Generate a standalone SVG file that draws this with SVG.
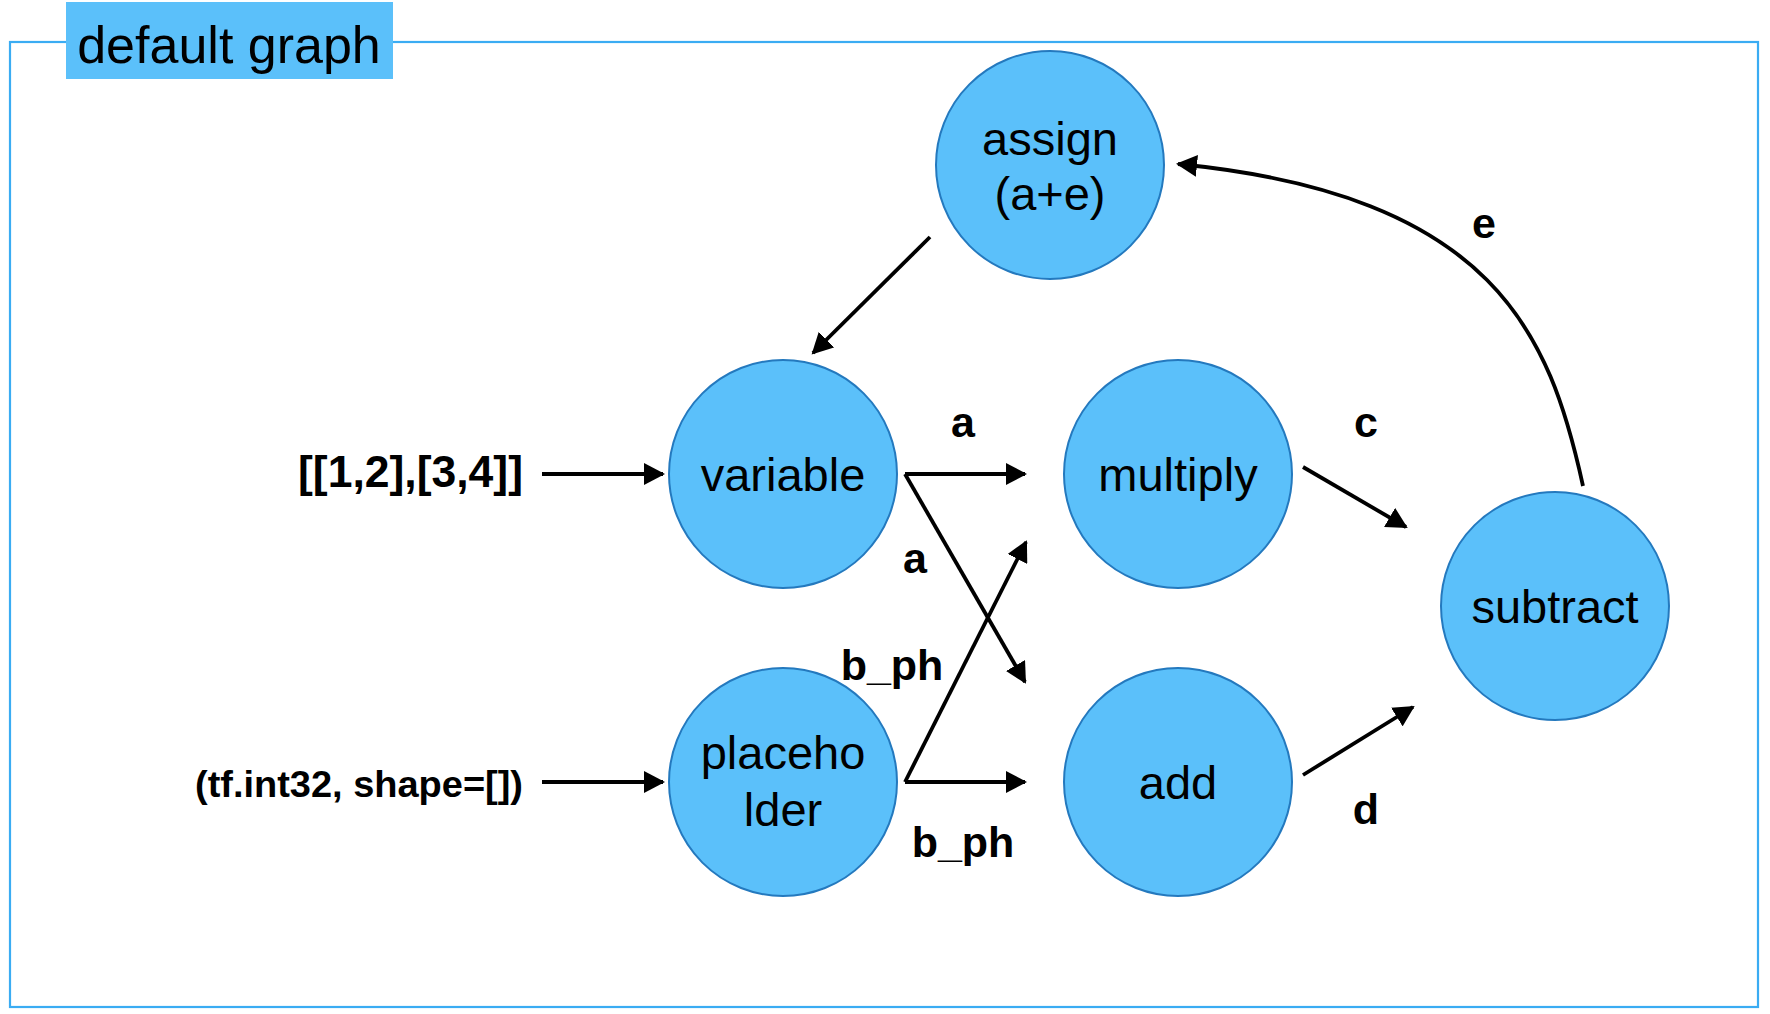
<svg xmlns="http://www.w3.org/2000/svg" width="1770" height="1014" viewBox="0 0 1770 1014">
<style>
.node{fill:#5BC0FA;stroke:#2479BE;stroke-width:2}
.nt{font-family:"Liberation Sans",Arial,sans-serif;font-size:47px;fill:#000;text-anchor:middle}
.lb{font-family:"Liberation Sans",Arial,sans-serif;font-size:43px;font-weight:bold;fill:#000;text-anchor:middle}
.in{font-family:"Liberation Sans",Arial,sans-serif;font-weight:bold;fill:#000;text-anchor:end}
.edge{fill:none;stroke:#000;stroke-width:3.8;marker-end:url(#arr)}
</style>
<defs>
<marker id="arr" markerUnits="userSpaceOnUse" markerWidth="22" markerHeight="22" refX="19" refY="11" orient="auto">
<path d="M0,0 L21,11 L0,22 z" fill="#000"/>
</marker>
</defs>
<rect width="1770" height="1014" fill="#fff"/>
<g id="frame">
<rect x="10" y="42" width="1748" height="965" fill="none" stroke="#3AACF3" stroke-width="2.2"/>
<rect x="66" y="2" width="327" height="77" fill="#5BC0FA"/>
<text x="229" y="63" font-family="'Liberation Sans',Arial,sans-serif" font-size="52" text-anchor="middle" fill="#000">default graph</text>
</g>
<g id="connectors">
<path class="edge" d="M930,237 L813,353"/>
<path class="edge" d="M542,474 L663,474"/>
<path class="edge" d="M542,782 L663,782"/>
<path class="edge" d="M905,474 L1025,474"/>
<path class="edge" d="M905,474 L1025,682"/>
<path class="edge" d="M905,782 L1025,782"/>
<path class="edge" d="M905,782 L1026,542"/>
<path class="edge" d="M1303,467 L1406,527"/>
<path class="edge" d="M1303,775 L1413,707"/>
<path class="edge" d="M1583,486 C1550,335 1495,195 1178,164"/>
<text class="lb" x="963" y="437">a</text>
<text class="lb" x="915" y="573">a</text>
<text class="lb" x="892" y="680">b_ph</text>
<text class="lb" x="963" y="857">b_ph</text>
<text class="lb" x="1366" y="437">c</text>
<text class="lb" x="1366" y="824">d</text>
<text class="lb" x="1484" y="238">e</text>
</g>
<g id="input-variable">
<text class="in" x="523" y="487" font-size="44" textLength="225" lengthAdjust="spacingAndGlyphs">[[1,2],[3,4]]</text>
</g>
<g id="input-placeholder">
<text class="in" x="523" y="797" font-size="37" textLength="328" lengthAdjust="spacingAndGlyphs">(tf.int32, shape=[])</text>
</g>
<g id="assign">
<circle class="node" cx="1050" cy="165" r="114"/>
<text class="nt" x="1050" y="155">assign</text>
<text class="nt" x="1050" y="210">(a+e)</text>
</g>
<g id="variable">
<circle class="node" cx="783" cy="474" r="114"/>
<text class="nt" x="783" y="491">variable</text>
</g>
<g id="multiply">
<circle class="node" cx="1178" cy="474" r="114"/>
<text class="nt" x="1178" y="491">multiply</text>
</g>
<g id="placeholder">
<circle class="node" cx="783" cy="782" r="114"/>
<text class="nt" x="783" y="769">placeho</text>
<text class="nt" x="783" y="826">lder</text>
</g>
<g id="add">
<circle class="node" cx="1178" cy="782" r="114"/>
<text class="nt" x="1178" y="799">add</text>
</g>
<g id="subtract">
<circle class="node" cx="1555" cy="606" r="114"/>
<text class="nt" x="1555" y="623">subtract</text>
</g>
</svg>
